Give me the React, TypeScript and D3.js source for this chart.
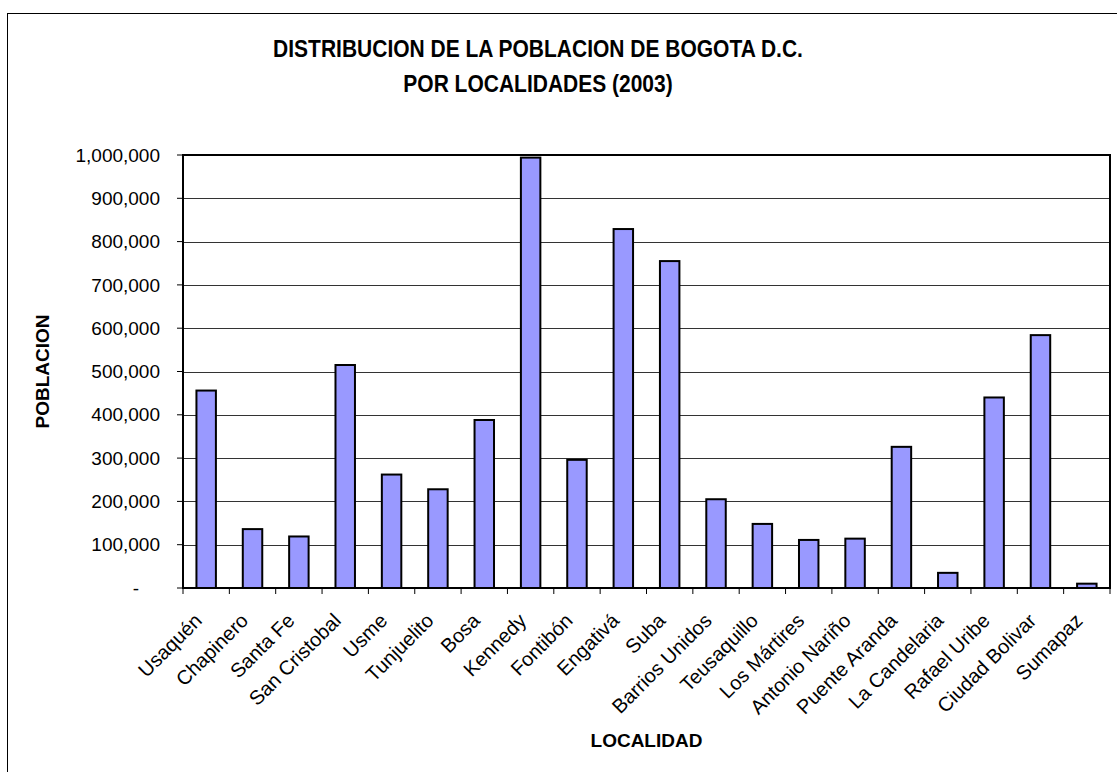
import React from 'react';
import * as d3 from 'd3';

const localidades = [
  'Usaquén', 'Chapinero', 'Santa Fe', 'San Cristobal', 'Usme', 'Tunjuelito', 'Bosa',
  'Kennedy', 'Fontibón', 'Engativá', 'Suba', 'Barrios Unidos', 'Teusaquillo',
  'Los Mártires', 'Antonio Nariño', 'Puente Aranda', 'La Candelaria', 'Rafael Uribe',
  'Ciudad Bolivar', 'Sumapaz',
];
const poblacion = [
  456000, 136000, 119000, 515000, 262000, 228000, 388000,
  994000, 296000, 829000, 755000, 205000, 148000,
  111000, 114000, 326000, 35000, 440000,
  584000, 10000,
];
const yTicks = [0, 100000, 200000, 300000, 400000, 500000, 600000, 700000, 800000, 900000, 1000000];

const W = 1117;
const H = 772;
const plot = { left: 183, top: 155, right: 1110, bottom: 588 };
const font = '"Liberation Sans", Arial, sans-serif';

const App = () => {
  const x = d3.scaleBand<string>().domain(localidades).range([plot.left, plot.right]).padding(0);
  const y = d3.scaleLinear().domain([0, 1000000]).range([plot.bottom, plot.top]);
  const fmt = d3.format(',');
  const barW = x.bandwidth() * 0.42;

  return (
    <svg width={W} height={H} style={{ position: 'absolute', left: 0, top: 0, background: '#fff' }} fontFamily={font}>
      <rect x={7.5} y={13.5} width={W + 10} height={H + 10} fill="none" stroke="#000" strokeWidth={1} />

      {/* title (reference glyphs are a little taller than wide) */}
      <g transform="translate(538,57) scale(1,1.1)">
        <text x={0} y={0} textAnchor="middle" fontWeight="bold" fontSize={21}>
          DISTRIBUCION DE LA POBLACION DE BOGOTA D.C.
        </text>
      </g>
      <g transform="translate(538,92) scale(1,1.1)">
        <text x={0} y={0} textAnchor="middle" fontWeight="bold" fontSize={21}>
          POR LOCALIDADES (2003)
        </text>
      </g>

      {yTicks.slice(1).map(t => (
        <line key={t} x1={plot.left} x2={plot.right} y1={Math.round(y(t)) + 0.5} y2={Math.round(y(t)) + 0.5} stroke="#333" strokeWidth={1.2} />
      ))}

      {yTicks.map(t => (
        <g key={'yt' + t}>
          <line x1={plot.left - 6} x2={plot.left} y1={y(t)} y2={y(t)} stroke="#000" strokeWidth={1} />
          {t === 0 ? (
            <text x={136} y={y(t)} dy="0.35em" textAnchor="middle" fontSize={19}>-</text>
          ) : (
            <text x={160} y={y(t)} dy="0.35em" textAnchor="end" fontSize={19}>{fmt(t)}</text>
          )}
        </g>
      ))}

      {localidades.map((d, i) => {
        const cx = (x(d) as number) + x.bandwidth() / 2;
        return (
          <rect key={d} x={cx - barW / 2} y={y(poblacion[i])} width={barW} height={plot.bottom - y(poblacion[i])}
            fill="#9999FF" stroke="#000" strokeWidth={2} />
        );
      })}

      {localidades.map(d => (
        <line key={'xt' + d} x1={x(d)} x2={x(d)} y1={plot.bottom} y2={plot.bottom + 6} stroke="#000" strokeWidth={1} />
      ))}
      <line x1={plot.right} x2={plot.right} y1={plot.bottom} y2={plot.bottom + 6} stroke="#000" strokeWidth={1} />

      <rect x={plot.left} y={plot.top} width={plot.right - plot.left} height={plot.bottom - plot.top}
        fill="none" stroke="#000" strokeWidth={2} />

      {localidades.map(d => {
        const cx = (x(d) as number) + x.bandwidth() / 2;
        const ax = cx - 8;
        const ay = 617;
        return (
          <text key={'xl' + d} x={ax} y={ay} dy="0.35em" textAnchor="end" fontSize={20}
            transform={`rotate(-45, ${ax}, ${ay})`}>{d}</text>
        );
      })}

      <text x={(plot.left + plot.right) / 2} y={747} textAnchor="middle" fontWeight="bold" fontSize={19}>LOCALIDAD</text>
      <text x={0} y={0} textAnchor="middle" fontWeight="bold" fontSize={19}
        transform={`translate(49, ${(plot.top + plot.bottom) / 2}) rotate(-90)`}>POBLACION</text>
    </svg>
  );
};

export default App;
